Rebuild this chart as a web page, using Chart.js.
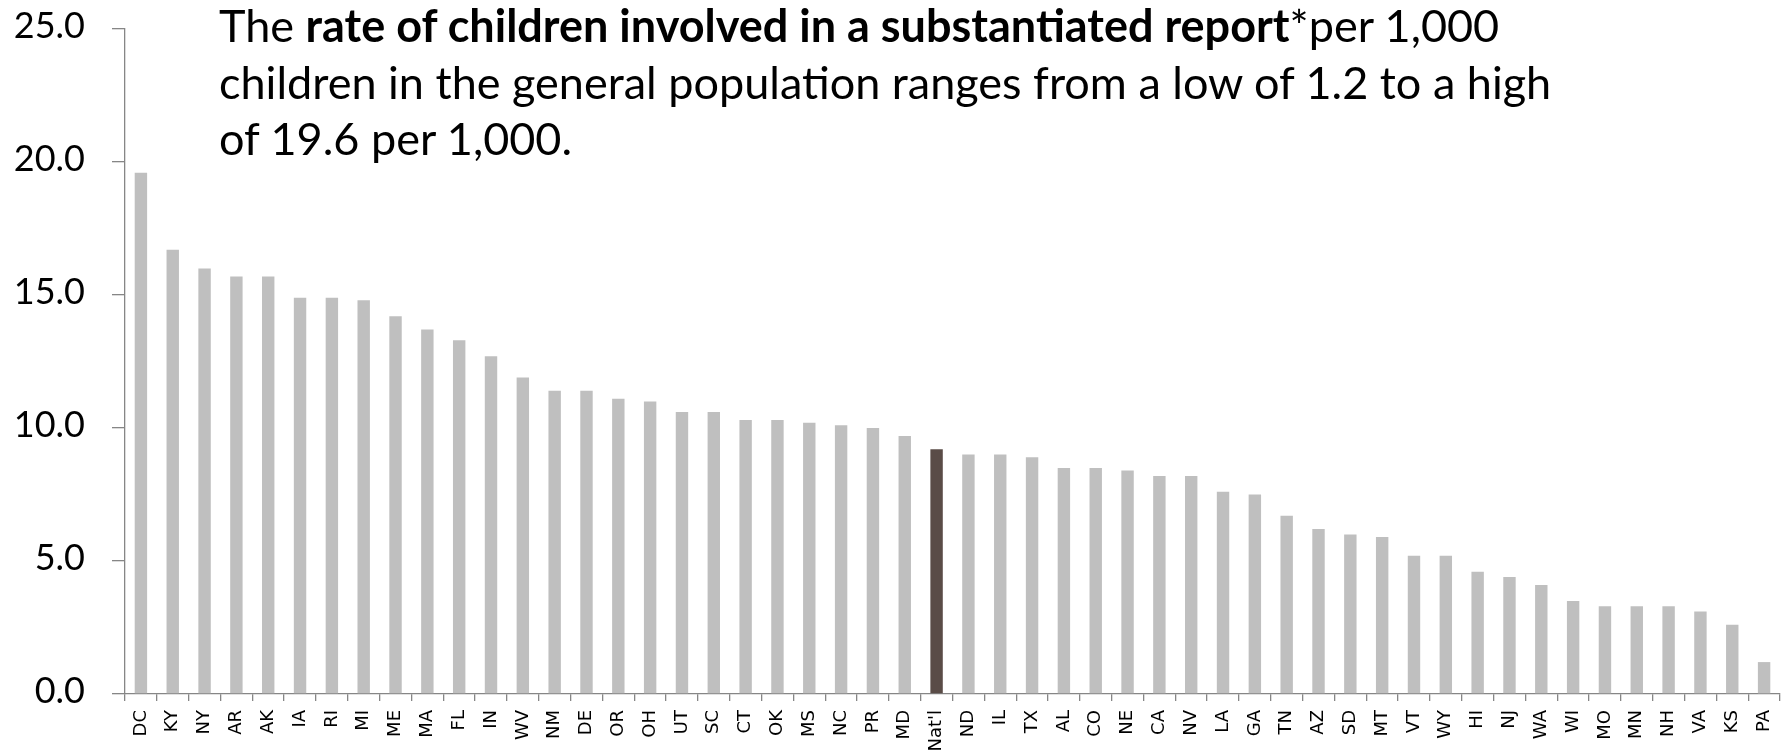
<!DOCTYPE html>
<html>
<head>
<meta charset="utf-8">
<script src="https://cdn.jsdelivr.net/npm/chart.js@4.4.1/dist/chart.umd.min.js"></script>
<style>
    body { margin: 0; background: #ffffff; }
    #wrap { position: relative; width: 1787px; height: 753px; }
    #note {
        position: absolute; left: 219px; top: -3px;
        font-family: Lato, 'Open Sans', sans-serif; font-size: 45px; line-height: 56.7px;
        color: #000; white-space: nowrap;
    }
    #note b { font-weight: 700; }
</style>
</head>
<body>
<div id="wrap">
    <canvas id="rateChart"></canvas>
    <div id="note">The <b>rate of children involved in a substantiated report</b>*per 1,000<br>children in the general population ranges from a low of 1.2 to a high<br>of 19.6 per 1,000.</div>
</div>
<script>
// Categories (states, sorted by rate) and rate per 1,000 children
const states = ['DC', 'KY', 'NY', 'AR', 'AK', 'IA', 'RI', 'MI', 'ME', 'MA', 'FL', 'IN', 'WV', 'NM', 'DE',
    'OR', 'OH', 'UT', 'SC', 'CT', 'OK', 'MS', 'NC', 'PR', 'MD', "Nat'l", 'ND', 'IL', 'TX', 'AL', 'CO',
    'NE', 'CA', 'NV', 'LA', 'GA', 'TN', 'AZ', 'SD', 'MT', 'VT', 'WY', 'HI', 'NJ', 'WA', 'WI', 'MO',
    'MN', 'NH', 'VA', 'KS', 'PA'];
const rates = [19.6, 16.7, 16.0, 15.7, 15.7, 14.9, 14.9, 14.8, 14.2, 13.7, 13.3, 12.7, 11.9, 11.4, 11.4,
    11.1, 11.0, 10.6, 10.6, 10.3, 10.3, 10.2, 10.1, 10.0, 9.7, 9.2, 9.0, 9.0, 8.9, 8.5, 8.5,
    8.4, 8.2, 8.2, 7.6, 7.5, 6.7, 6.2, 6.0, 5.9, 5.2, 5.2, 4.6, 4.4, 4.1, 3.5, 3.3,
    3.3, 3.3, 3.1, 2.6, 1.2];
const yTicks = [0, 5, 10, 15, 20, 25];

const colors = {
    bar: '#bfbfbf',
    national: '#5a4c47',
    axis: '#868686',
    text: '#000000'
};

const barColors = states.map(s => s === "Nat'l" ? colors.national : colors.bar);

Chart.defaults.font.family = 'Lato, sans-serif';
Chart.defaults.color = colors.text;

new Chart(document.getElementById('rateChart').getContext('2d'), {
    type: 'bar',
    data: {
        labels: states,
        datasets: [{
            data: rates,
            backgroundColor: barColors,
            borderWidth: 0,
            categoryPercentage: 1,
            barPercentage: 0.39
        }]
    },
    options: {
        responsive: true,
        maintainAspectRatio: false,
        animation: false,
        layout: { padding: { top: 29, right: 7, left: 0, bottom: 0 } },
        plugins: {
            legend: { display: false },
            tooltip: { enabled: false }
        },
        scales: {
            x: {
                grid: { drawOnChartArea: false, tickLength: 7, color: colors.axis, offset: true, lineWidth: 1.3 },
                border: { display: true, color: colors.axis, width: 1.3 },
                ticks: {
                    autoSkip: false, minRotation: 90, maxRotation: 90, padding: 9,
                    color: colors.text,
                    font: { family: "'DejaVu Sans', sans-serif", size: 18 }
                },
                // keep the plot box fixed, labels may run to the edge
                afterFit: s => { s.height = 59; s.paddingLeft = 0; s.paddingRight = 0; }
            },
            y: {
                min: 0, max: 25,
                afterBuildTicks: s => { s.ticks = yTicks.map(v => ({ value: v })); },
                grid: { drawOnChartArea: false, tickLength: 13, color: colors.axis, lineWidth: 1.3 },
                border: { display: true, color: colors.axis, width: 1.3 },
                ticks: {
                    padding: 27, labelOffset: -3,
                    color: colors.text,
                    font: { family: 'Lato, sans-serif', size: 36 },
                    callback: v => v.toFixed(1)
                },
                afterFit: s => { s.width = 125; s.paddingTop = 0; s.paddingBottom = 0; }
            }
        }
    }
});
</script>
</body>
</html>
